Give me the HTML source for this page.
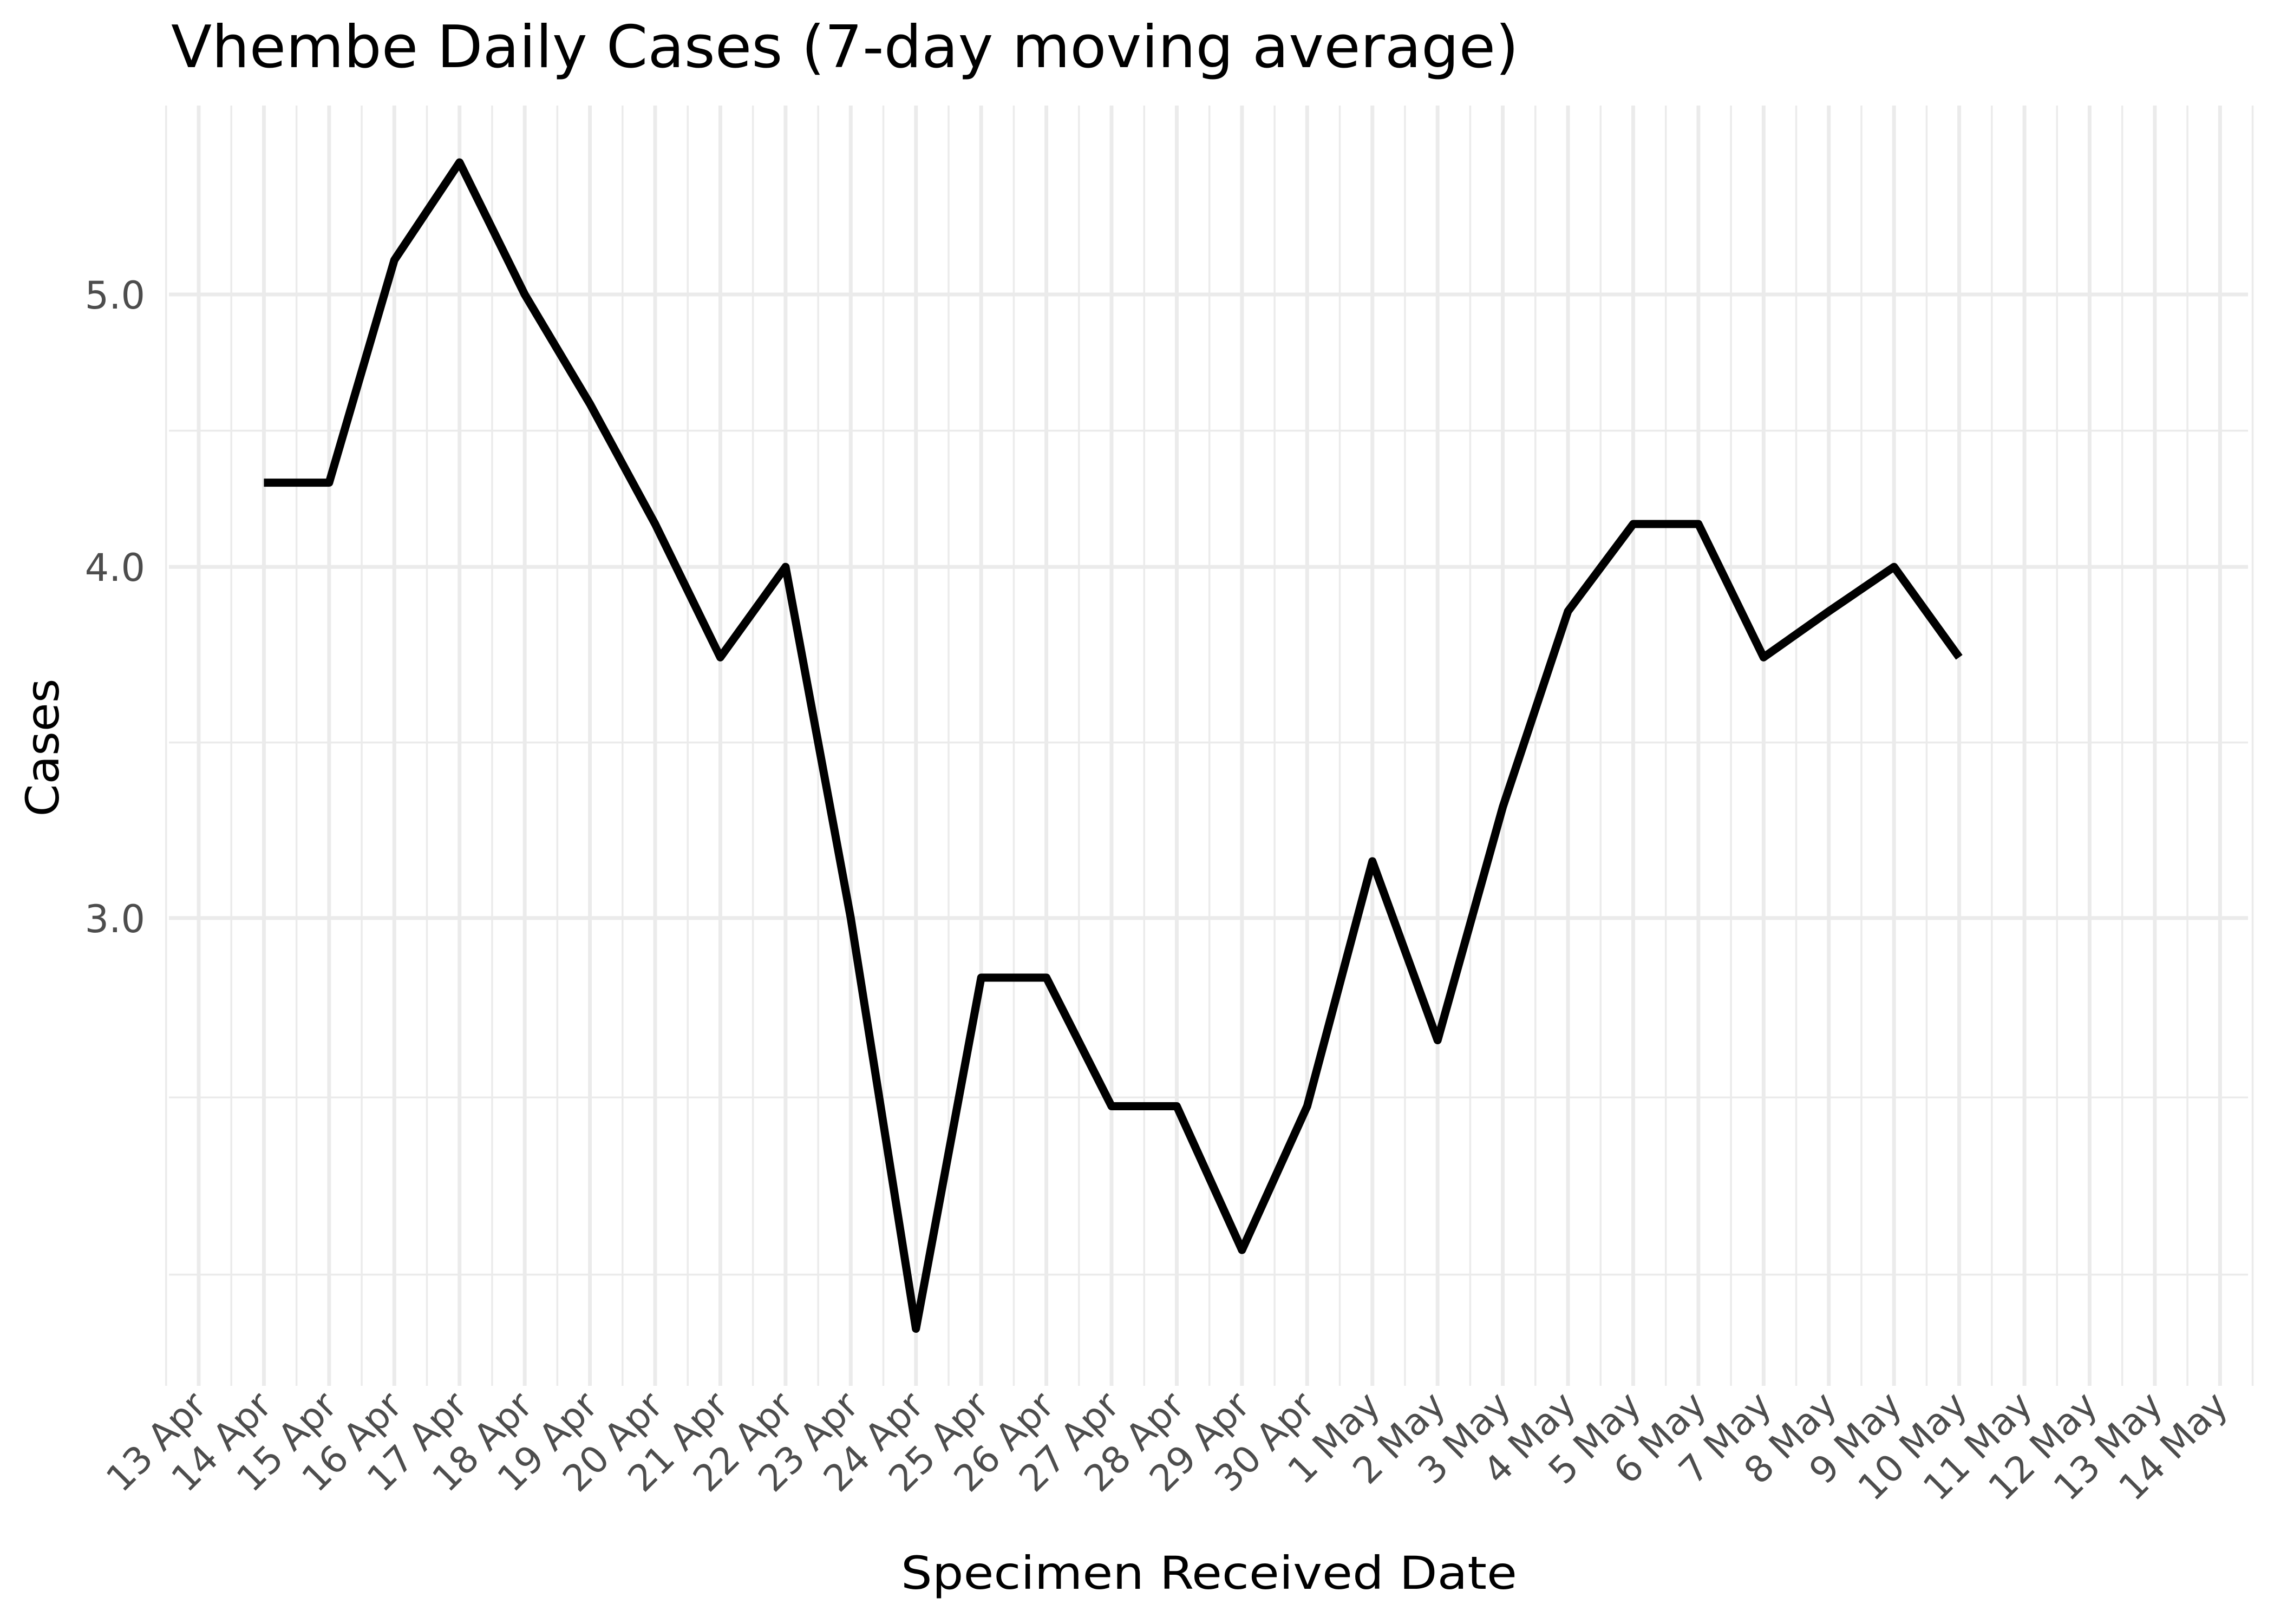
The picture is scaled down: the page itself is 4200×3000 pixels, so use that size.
<!DOCTYPE html>
<html><head><meta charset="utf-8"><style>
html,body{margin:0;padding:0;background:#fff;}
svg{display:block;font-family:"DejaVu Sans","Liberation Sans",sans-serif;}
</style></head><body>
<svg id="chart" width="4200" height="3000" viewBox="0 0 4200 3000" xmlns="http://www.w3.org/2000/svg">
<rect width="4200" height="3000" fill="#fff"/>
<g id="grid"></g>
<g id="series"></g>
<g id="xticks"></g>
<g id="yticks"></g>
<text x="316" y="124" font-size="108" fill="#000" textLength="2489" lengthAdjust="spacingAndGlyphs">Vhembe Daily Cases (7-day moving average)</text>
<text x="2233" y="2935" font-size="84" fill="#000" text-anchor="middle" textLength="1138" lengthAdjust="spacingAndGlyphs">Specimen Received Date</text>
<text transform="translate(108,1381) rotate(-90)" font-size="84" fill="#000" text-anchor="middle" textLength="255" lengthAdjust="spacingAndGlyphs">Cases</text>
</svg>
<script>
const dateLabels = ["13 Apr","14 Apr","15 Apr","16 Apr","17 Apr","18 Apr","19 Apr","20 Apr","21 Apr","22 Apr","23 Apr","24 Apr","25 Apr","26 Apr","27 Apr","28 Apr","29 Apr","30 Apr","1 May","2 May","3 May","4 May","5 May","6 May","7 May","8 May","9 May","10 May","11 May","12 May","13 May","14 May"];
const seriesDates = ["14 Apr","15 Apr","16 Apr","17 Apr","18 Apr","19 Apr","20 Apr","21 Apr","22 Apr","23 Apr","24 Apr","25 Apr","26 Apr","27 Apr","28 Apr","29 Apr","30 Apr","1 May","2 May","3 May","4 May","5 May","6 May","7 May","8 May","9 May","10 May"];
const seriesValues = [4.2857,4.2857,5.1429,5.5714,5.0,4.5714,4.1429,3.7143,4.0,3.0,2.1429,2.8571,2.8571,2.5714,2.5714,2.2857,2.5714,3.1429,2.7143,3.2857,3.8571,4.1429,4.1429,3.7143,3.8571,4.0,3.7143];
const yTickValues = [3,4,5];
const yTickLabels = ["3.0","4.0","5.0"];
const yMinorValues = [4.472,3.464,2.59,2.24];

const NS = "http://www.w3.org/2000/svg";
const PL = 312, PR = 4152, PT = 195, PB = 2560;
function xScale(i){ return 367 + i * 120.43; }
function yScale(v){ return 544 + 2255 * Math.log(5 / v); }
function mk(tag, attrs, parent){ const e = document.createElementNS(NS, tag); for (const k in attrs) e.setAttribute(k, attrs[k]); parent.appendChild(e); return e; }

const grid = document.getElementById('grid');
yMinorValues.forEach(v => {
  const l = mk('line', {x1:PL, x2:PR, y1:yScale(v), y2:yScale(v), stroke:'#ebebeb', 'stroke-width':3.5}, grid);
  
  
});
for (let i = -0.5; i < dateLabels.length; i += 1) {
  const l = mk('line', {x1:xScale(i), x2:xScale(i), y1:PT, y2:PB, stroke:'#ebebeb', 'stroke-width':3.5}, grid);
  
  
}
yTickValues.forEach(v => {
  const l = mk('line', {x1:PL, x2:PR, y1:yScale(v), y2:yScale(v), stroke:'#ebebeb', 'stroke-width':7}, grid);
  
  
});
dateLabels.forEach((d, i) => {
  const l = mk('line', {x1:xScale(i), x2:xScale(i), y1:PT, y2:PB, stroke:'#ebebeb', 'stroke-width':7}, grid);
  
  
});

const xt = document.getElementById('xticks');
dateLabels.forEach((d, i) => {
  const x = xScale(i) + 18, y = 2600;
  const t = mk('text', {transform:`translate(${x},${y}) rotate(-45)`, 'text-anchor':'end', 'font-size':68, fill:'#4d4d4d'}, xt);
  t.textContent = d;
  
  
});
const yt = document.getElementById('yticks');
yTickValues.forEach((v, i) => {
  const t = mk('text', {x:268, y:yScale(v) + 26, 'text-anchor':'end', 'font-size':70, fill:'#4d4d4d'}, yt);
  t.textContent = yTickLabels[i];
  
  
});

const pts = seriesValues.map((v, i) => xScale(dateLabels.indexOf(seriesDates[i])).toFixed(1) + ',' + yScale(v).toFixed(1)).join(' ');
const line = mk('polyline', {points:pts, fill:'none', stroke:'#000', 'stroke-width':15, 'stroke-linejoin':'round'}, document.getElementById('series'));


</script>
</body></html>
